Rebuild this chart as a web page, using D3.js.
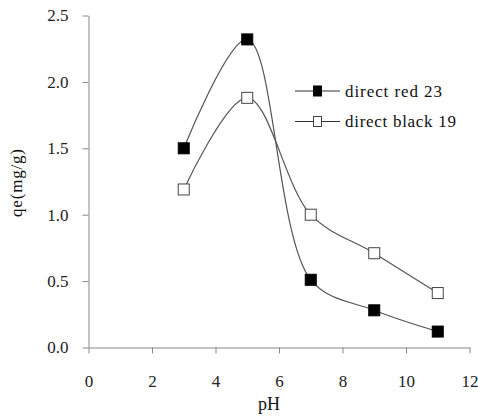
<!DOCTYPE html>
<html><head><meta charset="utf-8">
<script src="https://cdn.jsdelivr.net/npm/d3@7"></script>
<style>body{margin:0;background:#fff}svg{display:block}text{font-family:"Liberation Serif","Times New Roman",serif}</style>
</head><body>
<svg id="c" width="478" height="419"></svg>
<script>
const pH = [3, 5, 7, 9, 11];
const red23 = [1.50, 2.32, 0.51, 0.28, 0.12];
const black19 = [1.19, 1.88, 1.00, 0.71, 0.41];
const seriesNames = ["direct red 23", "direct black 19"];
const xTicks = [0, 2, 4, 6, 8, 10, 12];
const yTicks = [0.0, 0.5, 1.0, 1.5, 2.0, 2.5];

const svg = d3.select("#c");
const x = d3.scaleLinear().domain([0, 12]).range([88.5, 469.5]);
const y = d3.scaleLinear().domain([0, 2.5]).range([347.5, 15.5]);
const font = "Liberation Serif";

const yAx = svg.append("g").attr("transform", "translate(88.5,0)")
  .call(d3.axisLeft(y).tickValues(yTicks).tickFormat(d3.format(".1f")).tickSize(6).tickSizeOuter(0));
const xAx = svg.append("g").attr("transform", "translate(0,347.5)")
  .call(d3.axisBottom(x).tickValues(xTicks).tickFormat(d3.format("d")).tickSize(6).tickSizeOuter(0));
[yAx, xAx].forEach(a => {
  a.attr("font-family", font);
  a.select(".domain").attr("stroke", "#888");
  a.selectAll(".tick line").attr("stroke", "#888");
  a.selectAll(".tick text").attr("fill", "#222").attr("font-size", 17);
});
yAx.selectAll(".tick text").attr("x", -20);
xAx.selectAll(".tick text").attr("y", 27);

svg.append("text").attr("transform", "translate(22,183) rotate(-90)").attr("text-anchor", "middle")
  .attr("font-size", 17).attr("fill", "#111").attr("textLength", 68).attr("lengthAdjust", "spacing").text("qe(mg/g)");
svg.append("text").attr("x", 269).attr("y", 410).attr("text-anchor", "middle")
  .attr("font-size", 18).attr("fill", "#111").text("pH");

const line = d3.line().x(d => x(d[0])).y(d => y(d[1])).curve(d3.curveCatmullRom.alpha(0.5));
const series = [
  {name: seriesNames[0], vals: red23, fill: "#000", stroke: "#000", len: 97},
  {name: seriesNames[1], vals: black19, fill: "#fff", stroke: "#444", len: 111}
];
series.forEach(s => {
  const pts = pH.map((p, i) => [p, s.vals[i]]);
  svg.append("path").attr("d", line(pts)).attr("fill", "none").attr("stroke", "#555").attr("stroke-width", 1.2);
  svg.selectAll(null).data(pts).enter().append("rect")
    .attr("x", d => x(d[0]) - 5.5).attr("y", d => y(d[1]) - 5.5).attr("width", 11).attr("height", 11)
    .attr("fill", s.fill).attr("stroke", s.stroke).attr("stroke-width", 1);
});

// legend
series.forEach((s, i) => {
  const ly = 91 + i * 30.5;
  svg.append("line").attr("x1", 295).attr("x2", 340).attr("y1", ly).attr("y2", ly).attr("stroke", "#333").attr("stroke-width", 1.2);
  svg.append("rect").attr("x", 313.5).attr("y", ly - 5).attr("width", 8).attr("height", 10)
    .attr("fill", s.fill).attr("stroke", s.stroke);
  svg.append("text").attr("x", 345).attr("y", ly + 5.5).attr("font-size", 17)
    .attr("fill", "#111").attr("textLength", s.len).attr("lengthAdjust", "spacing").text(s.name);
});
</script>
</body></html>
